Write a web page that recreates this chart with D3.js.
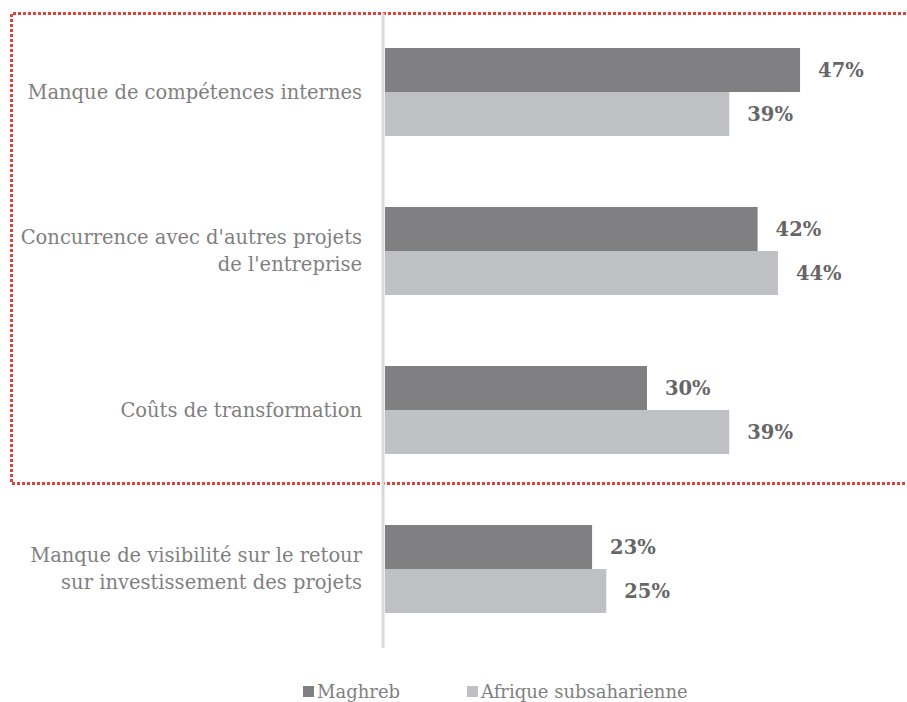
<!DOCTYPE html>
<html>
<head>
<meta charset="utf-8">
<script src="https://cdn.jsdelivr.net/npm/d3@7"></script>
<style>
	html, body { margin: 0; padding: 0; background: #fff; }
	svg { display: block; font-family: "DejaVu Serif", serif; }
</style>
</head>
<body>
<script>
'use strict'

const categories = [
	["Manque de compétences internes"],
	["Concurrence avec d'autres projets", "de l'entreprise"],
	["Coûts de transformation"],
	["Manque de visibilité sur le retour", "sur investissement des projets"]
];
const seriesNames = ['Maghreb', 'Afrique subsaharienne'];
// bar lengths; labels show them rounded
const maghreb = [46.9, 42.1, 29.6, 23.4];
const afrique = [38.9, 44.4, 38.9, 25];

const colors = ['#808083', '#bfc0c3'];

;(() => {
	const W = 907, H = 702;
	const svg = d3.select('body').append('svg')
		.attr('width', W)
		.attr('height', H);

	const rows = categories.map((c, i) => ({ label: c, values: [maghreb[i], afrique[i]], idx: i }));

	const y = d3.scaleBand()
		.domain(rows.map(d => d.idx))
		.range([12.5, 648.5])
		.paddingInner(71 / 159)
		.paddingOuter(71 / 318);

	const ySub = d3.scaleBand()
		.domain([0, 1])
		.range([0, y.bandwidth()]);

	const x = d3.scaleLinear()
		.domain([0, 100])
		.range([385, 385 + 885]);

	// red dotted frame round the first three rows
	svg.append('path')
		.attr('d', 'M 911 13.5 H 11.5 V 483.5 H 911')
		.attr('fill', 'none')
		.attr('stroke', '#e0413a')
		.attr('stroke-width', 3)
		.attr('stroke-dasharray', '3 2');

	const g = svg.selectAll('g.row')
		.data(rows)
		.enter().append('g')
		.attr('class', 'row')
		.attr('transform', d => `translate(0,${y(d.idx)})`);

	g.selectAll('rect')
		.data(d => d.values)
		.enter().append('rect')
		.attr('x', x(0))
		.attr('y', (v, i) => ySub(i))
		.attr('width', v => x(v) - x(0))
		.attr('height', ySub.bandwidth())
		.attr('fill', (v, i) => colors[i]);

	g.selectAll('text.val')
		.data(d => d.values)
		.enter().append('text')
		.attr('class', 'val')
		.attr('x', v => x(v) + 18)
		.attr('y', (v, i) => ySub(i) + ySub.bandwidth() / 2)
		.attr('dy', '0.35em')
		.attr('fill', '#666666')
		.attr('font-weight', 'bold')
		.attr('font-size', 19.5)
		.text(v => Math.round(v) + '%');

	// category labels
	g.append('text')
		.attr('text-anchor', 'end')
		.attr('fill', '#7f7f7f')
		.attr('font-size', 19.5)
		.each(function(d) {
			const t = d3.select(this);
			const n = d.label.length;
			d.label.forEach((line, k) => {
				t.append('tspan')
					.attr('x', 362)
					.attr('y', y.bandwidth() / 2 + (k - (n - 1) / 2) * 27)
					.attr('dy', '0.35em')
					.text(line);
			});
		});

	// vertical axis line
	svg.append('line')
		.attr('x1', 383).attr('x2', 383)
		.attr('y1', 13).attr('y2', 648)
		.attr('stroke', '#d9d9d9')
		.attr('stroke-width', 3);

	// legend
	const legX = [303, 467];
	const leg = svg.selectAll('g.leg')
		.data(seriesNames)
		.enter().append('g')
		.attr('class', 'leg')
		.attr('transform', (d, i) => `translate(${legX[i]},686)`);
	leg.append('rect')
		.attr('width', 11).attr('height', 11)
		.attr('fill', (d, i) => colors[i]);
	leg.append('text')
		.attr('x', 14)
		.attr('y', 12)
		.attr('fill', '#7f7f7f')
		.attr('font-size', 18)
		.text(d => d);
})();
</script>
</body>
</html>
